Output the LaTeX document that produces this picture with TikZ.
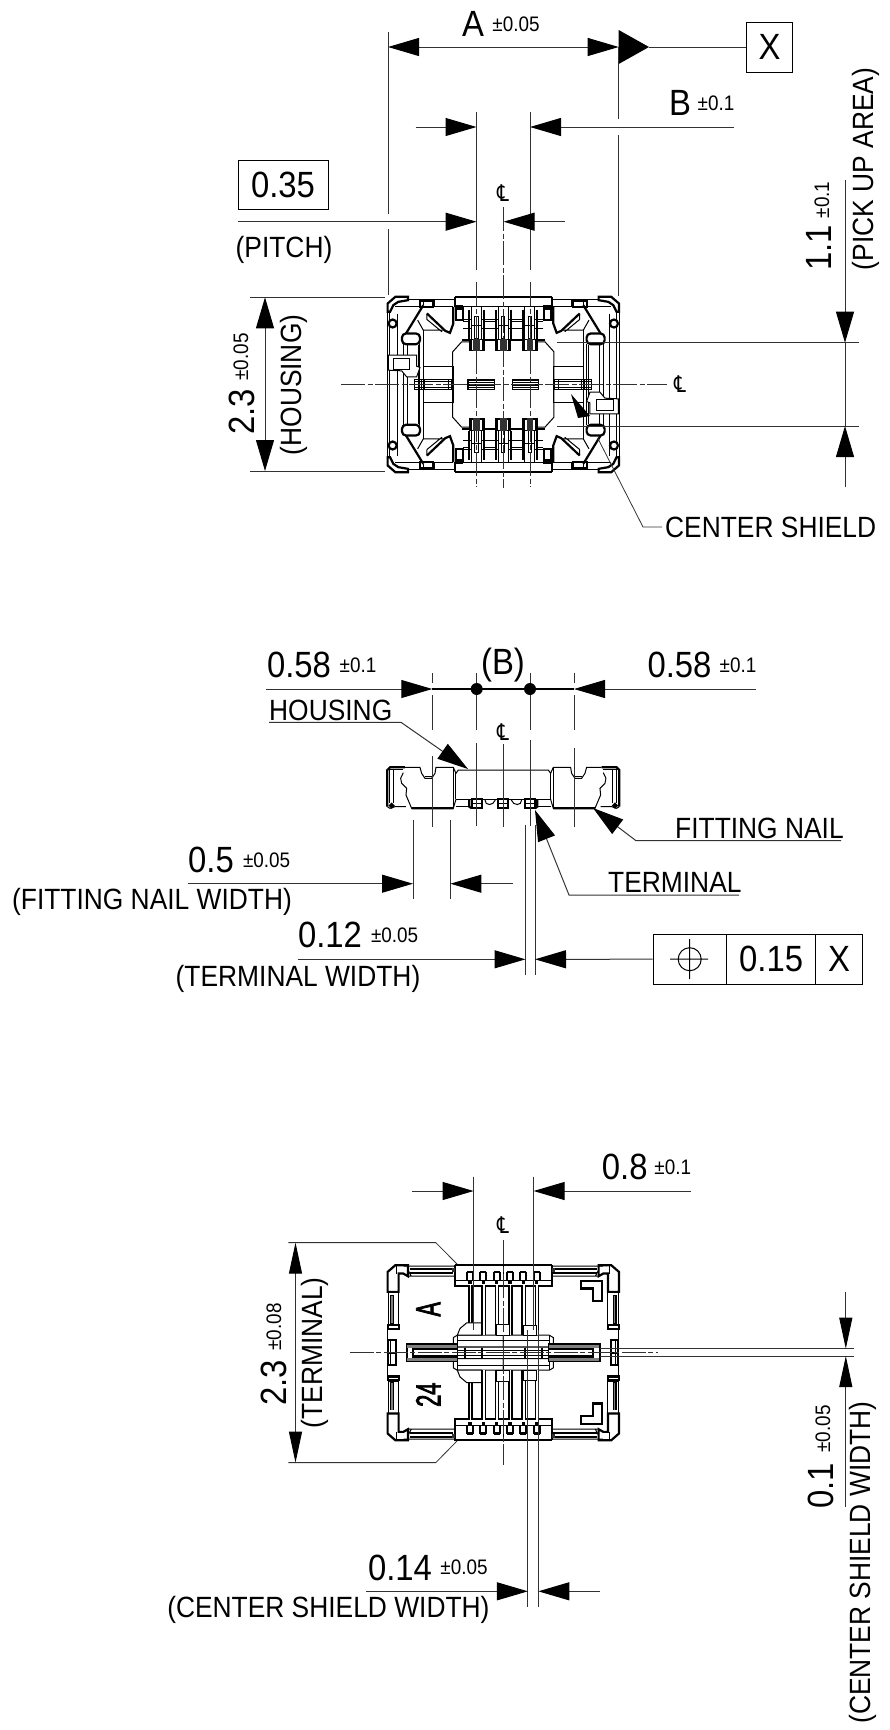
\documentclass[tikz,border=0pt]{standalone}
\usepackage{fontspec}
\setmainfont[FakeStretch=0.9]{Liberation Sans}
\newfontfamily\clfont[FakeStretch=0.8]{DejaVu Sans}
\newfontfamily\markfont[FakeBold=2,FakeStretch=0.62]{Liberation Sans}
\usetikzlibrary{arrows.meta}
\definecolor{dimgrey}{RGB}{50, 50, 50}
\tikzset{
    dimln/.style={color=dimgrey, line width=1pt},
    headb/.tip={Triangle[length=31pt,width=18pt,color=black,fill=black]},
    headn/.tip={Triangle[length=31pt,width=13pt,color=black,fill=black]},
    tipb/.style={-headb},
    tipn/.style={-headn},
    tipbb/.style={headb-headb},
    cline/.style={color=dimgrey, line width=0.9pt, dash pattern=on 24pt off 2.5pt on 5pt off 2.5pt},
    partln/.style={color=black, line width=1pt},
    heavy/.style={color=black, line width=2.2pt},
    txtbig/.style={inner sep=0pt, font=\fontsize{36.5}{40}\selectfont},
    txttol/.style={inner sep=0pt, font=\fontsize{21}{24}\selectfont},
    txtlab/.style={inner sep=0pt, font=\fontsize{29.3}{33}\selectfont},
    txtcl/.style={inner sep=0pt, font=\clfont\fontsize{23}{25}\selectfont},
    txtmark/.style={inner sep=0pt, rotate=90, font=\markfont\fontsize{35}{38}\selectfont},
    zoomq/.style n args={4}{shift={(#1,#2)}, x=0.3333pt, y=-0.3333pt, xscale=#3, yscale=#4},
}
\begin{document}
\begin{tikzpicture}[x=1pt,y=-1pt]
\useasboundingbox (0,0) rectangle (890,1730);
% top view
\foreach \sx/\sy in {1/1,-1/1,1/-1,-1/-1}{
\begin{scope}[zoomq={503.3}{384.5}{\sx}{\sy},shift={(-400,-313)}]
    \draw[heavy] (53,95) -- (53,70) -- (76,50) -- (114,50) -- (114,60) -- (85,65) -- (70,75) -- (60,95) -- cycle;
    \draw[partln] (52,95) -- (52,313) (60,95) -- (60,313) (82,100) -- (82,313) (100,190) -- (100,313) (112,190) -- (112,313);
    \draw[partln] (114,58) -- (255,58) (76,80) -- (250,80) (160,58) -- (160,75) (195,58) -- (195,80);
    \draw[heavy] (150,62) rectangle (190,80);
    \draw[heavy, fill=white] (68,130) circle (12);
    \draw[heavy] (160,75) -- (108,160);
    \draw[heavy, fill=white, rounded corners=4] (96,160) rectangle (150,192);
    \draw[heavy] (171,100) -- (226,152) -- (240,158) -- (250,130) -- (250,80);
    \draw[partln] (171,118) -- (216,155) (143,120) -- (160,150) -- (225,150) (171,100) -- (171,118);
    \draw[partln] (160,150) -- (160,313) (145,195) -- (145,313) (150,192) -- (150,313);
    \draw[partln] (160,260) -- (250,260) -- (250,298);
    \draw[heavy] (258,85) rectangle (278,120);
    \draw[heavy] (255,50) -- (400,50) (255,50) -- (255,78) -- (280,78);
    \draw[partln] (255,78) -- (400,78) (280,118) -- (400,118) (280,125) -- (400,125) (280,145) -- (400,145);
    \draw[partln] (248,313) -- (248,215) -- (275,185) -- (298,185);
    \draw[heavy] (275,180) -- (400,180);
    \draw[partln] (135,313) -- (135,298) -- (250,298) -- (250,313) (135,305) -- (250,305) (145,298) -- (145,313) (155,298) -- (155,313) (165,298) -- (165,313) (235,298) -- (235,313) (245,298) -- (245,313);
    \fill[black] (292,297) rectangle (375,313);
    \draw[white, line width=0.5pt] (296,303) -- (371,303) (296,308) -- (371,308);
\end{scope}
}
\foreach \sx/\sy in {1/1,-1/-1}{
\begin{scope}[zoomq={503.3}{384.5}{\sx}{\sy},shift={(-400,-313)}]
    \draw[partln, fill=white] (55,225) -- (140,225) -- (140,258) -- (150,262) -- (140,290) -- (110,290) -- (95,272) -- (55,270) -- cycle;
    \draw[partln] (70,235) rectangle (120,268);
\end{scope}
}
\foreach \tx in {320,400,480}{
\foreach \sy in {1,-1}{
\begin{scope}[zoomq={503.3}{384.5}{1}{\sy},shift={(-400,-313)}]
    \fill[white] (\tx-22,85) rectangle (\tx+22,175);
    \draw[heavy] (\tx-22,88) -- (\tx-22,175) (\tx+22,88) -- (\tx+22,175);
    \draw[partln] (\tx-15,118) -- (\tx-22,118) (\tx+15,118) -- (\tx+22,118) (\tx-15,145) -- (\tx-22,145) (\tx+15,145) -- (\tx+22,145);
    \draw[partln] (\tx-15,175) -- (\tx-15,80) -- (\tx+15,80) -- (\tx+15,175) (\tx-15,135) -- (\tx+15,135);
    \draw[partln] (\tx-5,108) rectangle (\tx+5,175);
    \fill[black] (\tx-24,175) rectangle (\tx+24,212);
    \fill[white] (\tx-15,178) rectangle (\tx+15,208);
    \fill[dimgrey] (\tx-10,175) rectangle (\tx+10,212);
\end{scope}
}
}
\fill[black] (571,394) -- (590,416) -- (578,418) -- cycle;
\fill[black] (618.7,30) -- (649,47) -- (618.7,64) -- cycle;
\node[draw, line width=1pt, minimum width=46pt, minimum height=50pt, txtbig] (datumx) at (769.5,47) {X};
\draw[dimln] (datumx) -- (649,47);
\draw[dimln, tipbb] (388,47) -- (618.7,47);
\draw[dimln] (388,32) -- (388,214) (388,229) -- (388,295) (618.7,47) -- (618.7,119) (618.7,135) -- (618.7,296);
\node[txtbig] (valA) at (473,24) {A};
\node[txttol] (tolA) at (516,24) {±0.05};
\draw[dimln, tipb] (415.7,127) -- (476.5,127);
\draw[dimln, tipb] (734,127) -- (530,127);
\draw[dimln] (476.5,112) -- (476.5,270) (530,112) -- (530,270);
\draw[cline] (476.5,282) -- (476.5,487) (530,282) -- (530,487) (503.3,207) -- (503.3,488);
\node[txtbig] (valB) at (680,103) {B};
\node[txttol] (tolB) at (716,103) {±0.1};
\node[draw, line width=1pt, minimum width=90pt, minimum height=49pt, txtbig] (pitchbox) at (283,185) {0.35};
\node[txtlab] (pitch) at (284,250) {(PITCH)};
\draw[dimln, tipb] (238,221.7) -- (476.5,221.7);
\draw[dimln, tipb] (564.6,221.7) -- (503.6,221.7);
\node[txtcl] (clA) at (503,193) {℄};
\draw[dimln] (250,297.3) -- (385,297.3) (250,471) -- (385,471);
\draw[dimln, tipbb] (265,297.3) -- (265,471);
\node[txtbig, rotate=90] (valH) at (241.5,412) {2.3};
\node[txttol, rotate=90] (tolH) at (241,357) {±0.05};
\node[txtlab, rotate=90] (housingH) at (294,385) {(HOUSING)};
\draw[cline] (341,384.5) -- (667,384.5);
\node[txtcl] (clB) at (680,384) {℄};
\draw[dimln] (557,342.7) -- (859,342.7) (557,426) -- (859,426);
\draw[dimln, tipb] (845,180) -- (845,342.7);
\draw[dimln, tipb] (845,487) -- (845,426);
\draw[dimln] (845,342.7) -- (845,426);
\node[txtbig, rotate=90] (valP) at (819,248) {1.1};
\node[txttol, rotate=90] (tolP) at (822,200) {±0.1};
\node[txtlab, rotate=90] (pickup) at (866,169) {(PICK UP AREA)};
\node[txtlab, anchor=west] (shield) at (665,527) {CENTER SHIELD};
\draw[dimln, line width=0.8pt, shorten >=3pt] (597.7,438) -- (643,527) -- (shield.west);
% side view
\foreach \sx in {1,-1}{
\begin{scope}[zoomq={503.3}{740}{\sx}{1},shift={(-400,0)}]
    \draw[heavy] (52,200) -- (52,90) -- (60,82) -- (105,82);
    \draw[partln] (105,82) -- (150,82) -- (155,100) -- (165,115) -- (185,115) -- (195,100) -- (198,82) -- (250,82) -- (258,100) -- (265,90) -- (400,90);
    \draw[partln] (165,108) -- (185,108) (60,90) -- (60,190) (72,90) -- (72,190) (52,88) -- (100,88);
    \draw[partln] (100,98) -- (92,115) -- (95,130) -- (110,145) -- (108,165) -- (125,205) -- (250,205) -- (258,178);
    \draw[partln] (250,82) -- (250,205) (258,100) -- (258,178);
    \draw[partln] (52,200) -- (60,205) -- (75,200) -- (108,200);
    \draw[heavy, fill=white] (65,197) circle (5);
    \draw[partln] (258,178) -- (400,178) (258,200) -- (298,200);
    \draw[heavy] (125,205) -- (250,205) (298,178) -- (298,200) -- (305,205);
    \draw[partln] (345,180) .. controls (345,198) and (370,198) .. (376,180);
\end{scope}
}
\foreach \tx in {320,400,480}{
\begin{scope}[zoomq={503.3}{740}{1}{1},shift={(-400,0)}]
    \draw[heavy] (\tx-15,178) rectangle (\tx+15,205);
    \draw[partln] (\tx-15,190) -- (\tx+15,190);
\end{scope}
}
\draw[dimln] (432.3,756) -- (432.3,827) (476.7,743) -- (476.7,826) (503.3,744) -- (503.3,827) (530,740) -- (530,826) (574,748) -- (574,827);
\draw[dimln] (432.3,673) -- (432.3,683) (432.3,695) -- (432.3,730) (476.7,673) -- (476.7,730) (530,673) -- (530,730) (574,673) -- (574,683) (574,695) -- (574,730);
\draw[dimln, tipb] (266,689) -- (432.3,689);
\draw[dimln, tipb] (756,689) -- (574,689);
\draw[color=black, line width=1.6pt] (432.3,689) -- (574,689);
\fill[black] (476.7,689) circle (6);
\fill[black] (530,689) circle (6);
\node[txtbig] (valL) at (299,665) {0.58};
\node[txttol] (tolL) at (358,665) {±0.1};
\node[txtbig] (bref) at (503,665) {(B)};
\node[txtbig] (valR) at (679.5,665) {0.58};
\node[txttol] (tolR) at (738,665) {±0.1};
\node[txtcl] (clC) at (503,732) {℄};
\node[txtlab, anchor=base west] (housing) at (269,720) {HOUSING};
\draw[dimln, tipb] (269,722.3) -- (401,722.3) -- (468,769);
\node[txtlab, anchor=base west] (nail) at (675,838) {FITTING NAIL};
\draw[dimln, tipb] (841,840.7) -- (636,840.7) -- (593,808);
\node[txtlab, anchor=base west] (termlbl) at (608,892) {TERMINAL};
\draw[dimln, tipb] (739,895) -- (569,895) -- (535,810);
\draw[dimln] (413,820) -- (413,899) (450.4,820) -- (450.4,899);
\draw[dimln, tipb] (187.5,883.7) -- (413,883.7);
\draw[dimln, tipb] (512.7,883.7) -- (450.4,883.7);
\node[txtbig] (valN) at (211,860) {0.5};
\node[txttol] (tolN) at (266.6,860) {±0.05};
\node[txtlab] (nailw) at (152,902) {(FITTING NAIL WIDTH)};
\draw[dimln] (525.5,825) -- (525.5,975) (535,825) -- (535,975);
\node[draw, line width=1pt, minimum width=73.3pt, minimum height=49.7pt, inner sep=0pt] (fcfsym) at (689.7,959.2) {};
\node[draw, line width=1pt, minimum width=89.6pt, minimum height=49.7pt, txtbig] (fcfval) at (771.1,959.2) {0.15};
\node[draw, line width=1pt, minimum width=46.4pt, minimum height=49.7pt, txtbig] (fcfx) at (839.1,959.2) {X};
\draw[dimln, tipb] (297.5,959.3) -- (525.5,959.3);
\draw[dimln, tipb] (fcfsym.west) -- (535,959.3);
\draw[partln] (fcfsym) circle (11.5) (670,959.2) -- (708,959.2) (689.5,939) -- (689.5,979);
\node[txtbig] (valT) at (330,935) {0.12};
\node[txttol] (tolT) at (394.6,935) {±0.05};
\node[txtlab] (termw) at (298,979) {(TERMINAL WIDTH)};
% bottom view
\foreach \sx/\sy in {1/1,-1/1,1/-1,-1/-1}{
\begin{scope}[zoomq={503.3}{1352.7}{\sx}{\sy},shift={(-400,-307.5)}]
    \draw[heavy] (53,125) -- (53,65) -- (76,45) -- (114,45) -- (114,78) -- (100,70) -- (86,70) -- (86,125) -- cycle;
    \draw[partln] (80,45) -- (80,70);
    \draw[partln] (101,48) -- (255,48) (115,78) -- (255,78) (114,60) -- (124,78);
    \fill[black] (120,52) rectangle (250,58);
    \fill[black] (120,64) rectangle (250,70);
    \draw[partln] (55,125) rectangle (86,222);
    \fill[black] (60,135) rectangle (72,220);
    \fill[gray] (64,137) rectangle (68,218);
    \draw[heavy] (53,225) rectangle (86,236);
    \draw[partln] (53,236) -- (53,270);
    \draw[heavy] (55,270) rectangle (77,307.5);
    \draw[partln] (62,270) -- (62,307.5);
    \draw[heavy] (110,307.5) -- (110,282) -- (400,282);
    \fill[gray] (112,284) rectangle (400,292);
    \fill[black] (130,292) rectangle (262,300);
    \draw[partln] (130,300) -- (400,300);
    \draw[partln, fill=white] (250,290) -- (250,262) -- (262,255) -- (400,255) -- (400,290) -- cycle;
    \draw[partln] (262,255) -- (262,292) (262,270) -- (400,270);
    \draw[heavy] (285,292) -- (285,307.5) (335,292) -- (335,307.5);
    \draw[partln] (255,45) rectangle (400,108);
    \draw[heavy] (255,45) -- (400,45) (255,45) -- (255,108) -- (400,108);
    \draw[partln] (255,90) -- (400,90);
    \fill[dimgrey] (245,52) rectangle (255,64);
\end{scope}
}
\foreach \sy in {1,-1}{
\foreach \tx in {300,340,380,420,460,500}{
\begin{scope}[zoomq={503.3}{1352.7}{1}{\sy},shift={(-400,-307.5)}]
    \fill[black] (\tx-6,108) rectangle (\tx-1,255);
    \fill[black] (\tx+4,108) rectangle (\tx+8,255);
    \fill[white] (\tx-1,100) rectangle (\tx+4,255);
    \draw[heavy] (\tx-9,65) -- (\tx-9,92) (\tx+9,65) -- (\tx+9,92) (\tx-9,65) -- (\tx+9,65);
    \fill[black] (\tx-5,90) rectangle (\tx+5,100);
\end{scope}
}
\begin{scope}[zoomq={503.3}{1352.7}{1}{\sy},shift={(-400,-307.5)}]
    \draw[partln, fill=white] (262,255) -- (270,235) -- (290,218) -- (335,218) -- (335,255) -- cycle;
    \draw[partln, fill=white] (380,222) rectangle (420,255);
    \draw[partln, fill=white] (460,225) rectangle (500,255);
\end{scope}
}
\foreach \sx in {1,-1}{
\begin{scope}[zoomq={503.3}{1352.7}{\sx}{1},shift={(-400,-307.5)}]
    \draw[heavy] (110,282) rectangle (262,333);
    \fill[gray] (112,284) rectangle (262,292);
    \fill[gray] (112,323) rectangle (262,331);
    \fill[black] (130,292) rectangle (262,300);
    \fill[black] (130,315) rectangle (262,323);
    \fill[white] (130,300) rectangle (262,315);
    \draw[heavy] (130,292) -- (130,323);
\end{scope}
}
\begin{scope}[zoomq={503.3}{1352.7}{1}{1},shift={(-400,-307.5)}]
    \draw[heavy] (632,92) -- (695,92) -- (695,152) -- (668,152) -- (668,115) -- (632,115) -- cycle;
    \draw[heavy] (668,460) -- (695,460) -- (695,522) -- (632,522) -- (632,498) -- (668,498) -- cycle;
\end{scope}
\node[txtmark] (markA) at (428.3,1309.3) {A};
\node[txtmark] (mark24) at (428.3,1394.7) {24};
\draw[dimln] (473.6,1176.6) -- (473.6,1330) (533.6,1176.6) -- (533.6,1330);
\draw[dimln, tipb] (412,1191) -- (473.6,1191);
\draw[dimln, tipb] (691,1191) -- (533.6,1191);
\node[txtbig] (valW) at (624.7,1167) {0.8};
\node[txttol] (tolW) at (672.8,1167) {±0.1};
\node[txtcl] (clD) at (503,1225) {℄};
\draw[cline] (503.3,1240) -- (503.3,1464.5) (349.8,1352.5) -- (657.8,1352.5);
\draw[dimln, line width=0.8pt] (288.4,1242.6) -- (435.8,1242.6) -- (457,1264);
\draw[dimln, line width=0.8pt] (288.4,1462.6) -- (435.8,1462.6) -- (457,1441);
\draw[dimln, headn-headn] (295.5,1242.6) -- (295.5,1462.6);
\node[txtbig, rotate=90] (valS) at (273.8,1383) {2.3};
\node[txttol, rotate=90] (tolS) at (274,1327) {±0.08};
\node[txtlab, rotate=90] (terminalS) at (315.3,1352.7) {(TERMINAL)};
\draw[dimln, line width=0.8pt] (600,1348.7) -- (853.8,1348.7) (600,1356) -- (853.8,1356);
\draw[dimln, tipn] (845.8,1291.7) -- (845.8,1348.7);
\draw[dimln, tipn] (845.8,1506.8) -- (845.8,1356);
\node[txtbig, rotate=90] (valC) at (820.8,1486) {0.1};
\node[txttol, rotate=90] (tolC) at (823,1429) {±0.05};
\node[txtlab, rotate=90] (shieldw) at (863,1562.6) {(CENTER SHIELD WIDTH)};
\draw[dimln] (527.9,1330) -- (527.9,1606.8) (538.3,1330) -- (538.3,1606.8);
\draw[dimln, tipb] (366.3,1591.3) -- (527.9,1591.3);
\draw[dimln, tipb] (600,1591.3) -- (538.3,1591.3);
\node[txtbig] (valG) at (400,1567.5) {0.14};
\node[txttol] (tolG) at (464,1567.5) {±0.05};
\node[txtlab] (shieldg) at (328.4,1610) {(CENTER SHIELD WIDTH)};
\end{tikzpicture}
\end{document}
